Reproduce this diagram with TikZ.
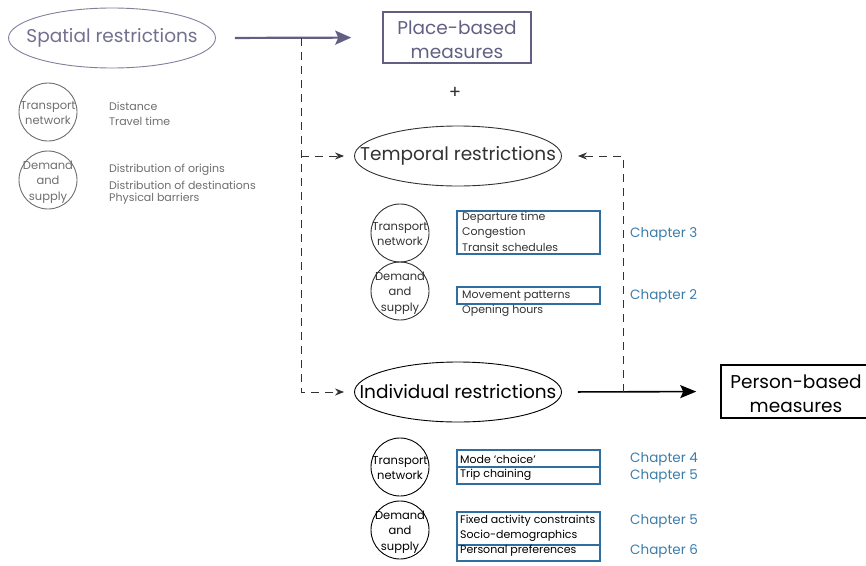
\documentclass[tikz,border=0pt]{standalone}
\usepackage{fontspec}
\setmainfont{Poppins}
\usetikzlibrary{arrows.meta,shapes.geometric}
\definecolor{pgray}{RGB}{98,96,130}
\definecolor{lgray}{RGB}{110,110,110}
\definecolor{dgray}{RGB}{50,50,50}
\definecolor{cblue}{RGB}{46,110,160}
\definecolor{chblue}{RGB}{60,125,170}
\tikzset{
  ell/.style={ellipse,draw=dgray,line width=0.9pt,minimum width=207pt,minimum height=60pt,inner sep=0pt},
  elltxt/.style={inner sep=0pt,font=\fontsize{18.5}{20}\selectfont,text=dgray},
  circ/.style={circle,draw=#1,line width=0.9pt,minimum size=58pt,inner sep=0pt},
  circtxt/.style={inner sep=0pt,align=center,font=\fontsize{11.5}{15.5}\selectfont,text=#1},
  itemtxt/.style={anchor=west,inner sep=0pt,font=\fontsize{11}{12}\selectfont,text=#1},
  bbox/.style={draw=cblue,line width=1.2pt,inner sep=0pt},
  chap/.style={anchor=west,inner sep=0pt,font=\fontsize{13.5}{14}\selectfont,text=chblue},
  dasharrow/.style={draw=dgray,line width=0.8pt,dash pattern=on 8pt off 6pt,-{Stealth[length=9pt,width=7pt]}},
  dashline/.style={draw=dgray,line width=0.8pt,dash pattern=on 8pt off 6pt},
  mbox/.style={draw=#1,line width=1.5pt,inner sep=0pt},
  mtxt/.style={inner sep=0pt,align=center,font=\fontsize{18.5}{23.5}\selectfont,text=#1}
}
\begin{document}
\begin{tikzpicture}[x=1pt,y=-1pt]
\useasboundingbox (0,0) rectangle (866,565);
% spatial
\node[ell,draw=pgray!80] (spat) at (112,38) {};
\node[elltxt,text=pgray!90] (spatt) at (spat.center) {Spatial restrictions};
\node[mbox=pgray,minimum width=148pt,minimum height=51pt] (place) at (457,37.5) {};
\node[mtxt=pgray] (placet) at ([yshift=-2pt]place.center) {Place-based\\measures};
\draw[pgray,line width=2.2pt,-{Stealth[length=16pt,width=14pt,inset=3pt]},shorten <=19pt,shorten >=31pt] (spat.east) -- (place.west);
\node[font=\fontsize{18}{20}\selectfont,text=dgray] (plus) at (455,93) {+};
\node[circ=lgray] (stn) at (48,112) {};
\node[circtxt=lgray] (stnt) at ([yshift=-1pt]stn.center) {Transport\\network};
\node[circ=lgray] (sds) at (48,180) {};
\node[circtxt=lgray] (sdst) at ([yshift=-2pt]sds.center) {Demand\\and\\supply};
\node[itemtxt=lgray] (s1) at (109,106) {Distance};
\node[itemtxt=lgray] (s2) at (109,121) {Travel time};
\node[itemtxt=lgray] (s3) at (109,170) {Distribution of origins};
\node[itemtxt=lgray] (s4) at (109,185) {Distribution of destinations};
\node[itemtxt=lgray] (s5) at (109,199) {Physical barriers};
% temporal
\node[ell] (temp) at (458,156) {};
\node[elltxt] (tempt) at (temp.center) {Temporal restrictions};
\node[circ=dgray] (ttn) at (400,233) {};
\node[circtxt=dgray] (ttnt) at ([yshift=-1pt]ttn.center) {Transport\\network};
\node[circ=dgray] (tds) at (400,291) {};
\node[circtxt=dgray] (tdst) at ([yshift=-2pt]tds.center) {Demand\\and\\supply};
\node[bbox,minimum width=143pt,minimum height=43pt] (tb1) at (528.5,232.5) {};
\node[itemtxt=dgray] (t1) at (462,218) {Departure time};
\node[itemtxt=dgray] (t2) at (462,233) {Congestion};
\node[itemtxt=dgray] (t3) at (462,247) {Transit schedules};
\node[bbox,minimum width=143pt,minimum height=17pt] (tb2) at (528.5,295.5) {};
\node[itemtxt=dgray] (t4) at (462,296) {Movement patterns};
\node[itemtxt=dgray] (t5) at (462,311) {Opening hours};
\node[chap] (c3) at (630,234) {Chapter 3};
\node[chap] (c2) at (630,296) {Chapter 2};
% individual
\node[ell,draw=black] (ind) at (458,392) {};
\node[elltxt,text=black] (indt) at (ind.center) {Individual restrictions};
\node[mbox=black,minimum width=150pt,minimum height=53pt] (person) at (796,391.5) {};
\node[mtxt=black] (persont) at ([yshift=-2pt]person.center) {Person-based\\measures};
\draw[black,line width=1.6pt,-{Stealth[length=16pt,width=13pt,inset=3pt]},shorten <=16pt,shorten >=24pt] (ind.east) -- (person.west);
\node[circ=black] (itn) at (400,467) {};
\node[circtxt=black] (itnt) at ([yshift=-1pt]itn.center) {Transport\\network};
\node[circ=black] (ids) at (400,530) {};
\node[circtxt=black] (idst) at ([yshift=-2pt]ids.center) {Demand\\and\\supply};
\node[bbox,minimum width=143pt,minimum height=17pt] (ib1) at (528.5,458.5) {};
\node[bbox,minimum width=143pt,minimum height=17pt] (ib2) at (528.5,475.5) {};
\node[itemtxt=black] (i1) at (460,459) {Mode ‘choice’};
\node[itemtxt=black] (i2) at (460,475) {Trip chaining};
\node[bbox,minimum width=143pt,minimum height=33pt] (ib3) at (528.5,528.5) {};
\node[bbox,minimum width=143pt,minimum height=16pt] (ib4) at (528.5,553) {};
\node[itemtxt=black] (i3) at (460,521) {Fixed activity constraints};
\node[itemtxt=black] (i4) at (460,536) {Socio-demographics};
\node[itemtxt=black] (i5) at (460,551) {Personal preferences};
\node[chap] (c4) at (630,459) {Chapter 4};
\node[chap] (c5) at (630,476) {Chapter 5};
\node[chap] (c5b) at (630,521) {Chapter 5};
\node[chap] (c6) at (630,551) {Chapter 6};
% dashed connectors
\coordinate (j1) at (301,38);
\coordinate (j3) at (623,392);
\draw[dashline] (j1) -- (301,156);
\draw[dasharrow,shorten >=10pt] (301,156) -- (temp.west);
\draw[dasharrow,shorten >=10pt] (j1) |- (ind.west);
\draw[dasharrow,shorten >=16pt] (j3) |- (temp.east);
\end{tikzpicture}
\end{document}
